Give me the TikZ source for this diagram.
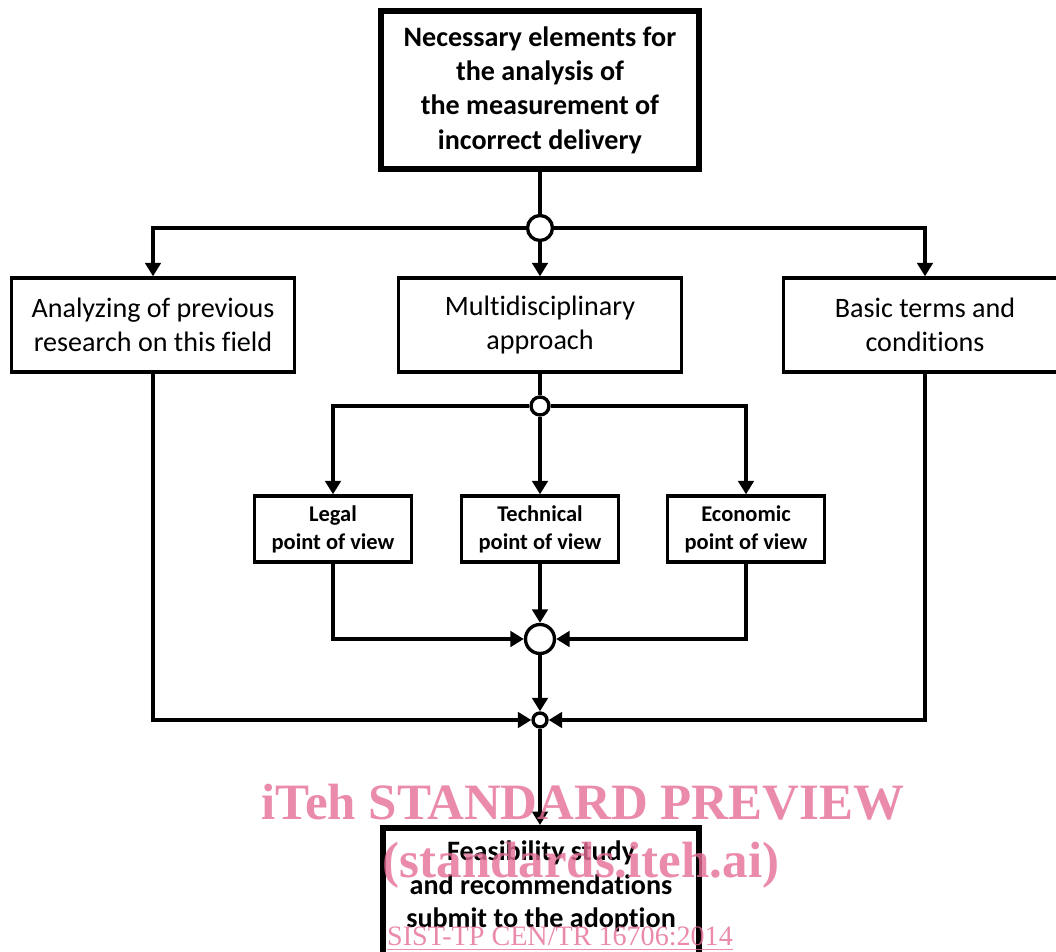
\documentclass[tikz,border=0pt]{standalone}
\usepackage{fontspec}
\setmainfont{Carlito}[Ligatures=NoCommon]
\newfontfamily\markfont{Liberation Serif}
\usepackage{tikz}
\usetikzlibrary{arrows.meta,shapes}
\usetikzlibrary{positioning}
\definecolor{markpink}{RGB}{230,110,150}
\tikzset{
    mainbox/.style={draw=black, line width=3.6pt, align=center, fill=white,
        font=\bfseries\fontsize{16}{19.5}\selectfont,
        minimum width=6.36cm, minimum height=3.16cm, inner sep=0pt},
    groupbox/.style={draw=black, line width=1.9pt, align=center,
        font=\fontsize{16}{19.4}\selectfont,
        minimum width=5.66cm, minimum height=1.88cm, inner sep=0pt},
    viewbox/.style={draw=black, line width=1.9pt, align=center,
        font=\bfseries\fontsize{12.8}{15.9}\selectfont,
        minimum width=3.14cm, minimum height=1.32cm, inner sep=0pt},
    resulttext/.style={align=center, inner sep=0pt,
        font=\bfseries\fontsize{16}{19.1}\selectfont},
    junction/.style={circle, draw=black, line width=1.9pt, fill=white, inner sep=0pt},
    flow/.style={draw=black, line width=1.9pt, ->},
    link/.style={draw=black, line width=1.9pt},
    watermark/.style={text=markpink, text opacity=0.8, anchor=base, inner sep=0pt,
        font=\markfont\bfseries\fontsize{29}{29}\selectfont},
}
\tikzset{>={Triangle[length=0.27cm,width=0.31cm]}}

\begin{document}
\begin{tikzpicture}[x=0.02cm, y=-0.02cm]
\useasboundingbox (0,0) rectangle (1056,952);
%TOP
\node [mainbox] (elements) at (540,90) {Necessary elements for\\the analysis of\\the measurement of\\incorrect delivery};
\node [junction, minimum size=0.5cm] (split) at (540,228) {};
\draw [link] (elements) -- (split);

%FIRST LEVEL
\node [groupbox] (previous) at (153,325) {Analyzing of previous\\research on this field};
\node [groupbox] (approach) at (540,325) {Multidisciplinary\\approach};
\node [groupbox] (terms) at (925,325) {Basic terms and\\conditions};
\draw [flow] (split) -| (previous);
\draw [flow] (split) -- (approach);
\draw [flow] (split) -| (terms);

%POINTS OF VIEW
\node [junction, minimum size=0.36cm] (fork) at (540,406) {};
\draw [link] (approach) -- (fork);
\node [viewbox] (legal) at (333,529) {Legal\\point of view};
\node [viewbox] (technical) at (540,529) {Technical\\point of view};
\node [viewbox] (economic) at (746,529) {Economic\\point of view};
\draw [flow] (fork) -| (legal);
\draw [flow] (fork) -- (technical);
\draw [flow] (fork) -| (economic);

%JOINING
\node [junction, minimum size=0.58cm] (join) at (540,639) {};
\draw [flow] (legal) |- (join);
\draw [flow] (technical) -- (join);
\draw [flow] (economic) |- (join);
\node [junction, minimum size=0.28cm] (merge) at (540,720) {};
\draw [flow] (join) -- (merge);
\draw [flow] (previous) |- (merge);
\draw [flow] (terms) |- (merge);

%RESULT
\node [mainbox, anchor=north, minimum width=6.32cm, minimum height=3.4cm] (result) at (541,825) {};
\node [resulttext, below=0.31cm of result.north] (feasibility) {Feasibility study\\and recommendations\\submit to the adoption};
\draw [flow] (merge) -- (merge |- result.north);

%WATERMARK
\node [watermark] (preview) at (583,820) {iTeh STANDARD PREVIEW};
\node [watermark] (site) at (581,878) {(standards.iteh.ai)};
\node [watermark, font=\markfont\fontsize{16}{16}\selectfont] (code) at (560,946) {\underline{SIST-TP CEN/TR 16706:2014}};
\end{tikzpicture}
\end{document}
